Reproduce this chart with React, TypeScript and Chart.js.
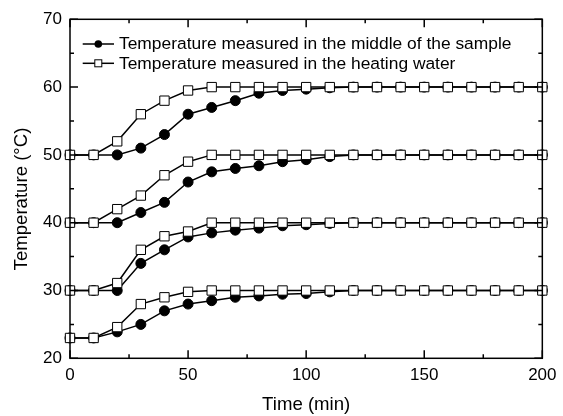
import React, { useEffect, useRef } from "react";
import { Chart, registerables } from "chart.js";

Chart.register(...registerables);

const timeMin = [0, 10, 20, 30, 40, 50, 60, 70, 80, 90, 100, 110, 120, 130, 140, 150, 160, 170, 180, 190, 200];

const sample1 = [23, 23, 23.9, 25, 27, 28, 28.5, 29, 29.2, 29.45, 29.55, 29.8, 30, 30, 30, 30, 30, 30, 30, 30, 30];
const water1 = [23, 23, 24.6, 28, 29, 29.8, 30, 30, 30, 30, 30, 30, 30, 30, 30, 30, 30, 30, 30, 30, 30];
const sample2 = [30, 30, 30, 34, 36, 37.9, 38.5, 38.9, 39.2, 39.55, 39.7, 39.9, 40, 40, 40, 40, 40, 40, 40, 40, 40];
const water2 = [30, 30, 31.1, 36, 38, 38.7, 40, 40, 40, 40, 40, 40, 40, 40, 40, 40, 40, 40, 40, 40, 40];
const sample3 = [40, 40, 40, 41.5, 43, 46, 47.5, 48, 48.4, 49, 49.3, 49.75, 50, 50, 50, 50, 50, 50, 50, 50, 50];
const water3 = [40, 40, 42, 44, 47, 49, 50, 50, 50, 50, 50, 50, 50, 50, 50, 50, 50, 50, 50, 50, 50];
const sample4 = [50, 50, 50, 51, 53, 56, 57, 58, 59.1, 59.5, 59.7, 59.9, 60, 60, 60, 60, 60, 60, 60, 60, 60];
const water4 = [50, 50, 52, 56, 58, 59.5, 60, 60, 60, 60, 60, 60, 60, 60, 60, 60, 60, 60, 60, 60, 60];

const sampleSeries = [sample1, sample2, sample3, sample4];
const waterSeries = [water1, water2, water3, water4];

const xMajorTicks = [0, 50, 100, 150, 200];
const xMinorTicks = [25, 75, 125, 175];
const yMajorTicks = [20, 30, 40, 50, 60, 70];
const yMinorTicks = [25, 35, 45, 55, 65];

const legendLabels = [
  "Temperature measured in the middle of the sample",
  "Temperature measured in the heating water",
];
const xTitle = "Time (min)";
const yTitle = "Temperature (\u00B0C)";

const FONT = "'Liberation Sans', Arial, Helvetica, sans-serif";

const toPoints = (arr: number[]) => arr.map((v, i) => ({ x: timeMin[i], y: v }));

const framePlugin = {
  id: "frameTicks",
  afterDatasetsDraw(chart: any) {
    const { ctx, chartArea } = chart;
    const xs = chart.scales.x;
    const ys = chart.scales.y;
    const { left, right, top, bottom } = chartArea;
    ctx.save();
    ctx.strokeStyle = "#000";
    ctx.lineWidth = 1.5;
    ctx.beginPath();
    const drawX = (vals: number[], len: number) => {
      vals.forEach((v) => {
        const px = xs.getPixelForValue(v);
        ctx.moveTo(px, bottom);
        ctx.lineTo(px, bottom - len);
        ctx.moveTo(px, top);
        ctx.lineTo(px, top + len);
      });
    };
    const drawY = (vals: number[], len: number) => {
      vals.forEach((v) => {
        const py = ys.getPixelForValue(v);
        ctx.moveTo(left, py);
        ctx.lineTo(left + len, py);
        ctx.moveTo(right, py);
        ctx.lineTo(right - len, py);
      });
    };
    drawX(xMajorTicks, 8);
    drawX(xMinorTicks, 4);
    drawY(yMajorTicks, 8);
    drawY(yMinorTicks, 4);
    ctx.stroke();
    ctx.strokeRect(left, top, right - left, bottom - top);
    ctx.restore();
  },
  afterDraw(chart: any) {
    const { ctx, chartArea } = chart;
    ctx.save();
    // legend
    const rows = [44, 63.3];
    ctx.strokeStyle = "#000";
    ctx.lineWidth = 1.5;
    rows.forEach((y, i) => {
      ctx.beginPath();
      ctx.moveTo(82.7, y);
      ctx.lineTo(114, y);
      ctx.stroke();
      if (i === 0) {
        ctx.fillStyle = "#000";
        ctx.beginPath();
        ctx.arc(98.3, y, 3.8, 0, Math.PI * 2);
        ctx.fill();
      } else {
        ctx.fillStyle = "#fff";
        ctx.lineWidth = 1;
        ctx.fillRect(94.8, y - 3.5, 7, 7);
        ctx.strokeRect(94.8, y - 3.5, 7, 7);
        ctx.lineWidth = 1.5;
      }
      ctx.fillStyle = "#000";
      ctx.font = `17.4px ${FONT}`;
      ctx.textAlign = "left";
      ctx.textBaseline = "middle";
      ctx.fillText(legendLabels[i], 119, y + 0.5);
    });
    // titles
    ctx.font = `18.6px ${FONT}`;
    ctx.textAlign = "center";
    ctx.textBaseline = "middle";
    ctx.fillText(xTitle, (chartArea.left + chartArea.right) / 2, 405);
    ctx.translate(21.7, 199);
    ctx.rotate(-Math.PI / 2);
    ctx.fillText(yTitle, 0, 0);
    ctx.restore();
  },
};

export default function App() {
  const ref = useRef<HTMLCanvasElement | null>(null);
  useEffect(() => {
    if (!ref.current) return;
    const datasets: any[] = [];
    sampleSeries.forEach((s) => {
      datasets.push({
        label: legendLabels[0],
        data: toPoints(s),
        borderColor: "#000",
        borderWidth: 1.5,
        pointStyle: "circle",
        pointRadius: 5,
        pointBackgroundColor: "#000",
        pointBorderColor: "#000",
        pointBorderWidth: 1,
        order: 1,
        clip: false,
      });
    });
    waterSeries.forEach((s) => {
      datasets.push({
        label: legendLabels[1],
        data: toPoints(s),
        borderColor: "#000",
        borderWidth: 1.5,
        pointStyle: "rect",
        pointRadius: 6.6,
        pointBackgroundColor: "#fff",
        pointBorderColor: "#000",
        pointBorderWidth: 1,
        order: 0,
        clip: false,
      });
    });
    const chart = new Chart(ref.current, {
      type: "line",
      data: { datasets },
      options: {
        animation: false,
        responsive: false,
        devicePixelRatio: 1,
        layout: { padding: { top: 19.3, right: 15.5, left: 0, bottom: 0 } },
        plugins: { legend: { display: false }, tooltip: { enabled: false } },
        elements: { line: { tension: 0 } },
        scales: {
          x: {
            type: "linear",
            min: 0,
            max: 200,
            grid: { display: false, drawTicks: false },
            border: { display: false },
            afterBuildTicks: (scale: any) => {
              scale.ticks = xMajorTicks.map((v) => ({ value: v }));
            },
            afterFit: (scale: any) => {
              scale.height = 57.7;
            },
            ticks: {
              color: "#000",
              padding: 6.5,
              maxRotation: 0,
              font: { family: FONT, size: 17 },
            },
          },
          y: {
            type: "linear",
            min: 20,
            max: 70,
            grid: { display: false, drawTicks: false },
            border: { display: false },
            afterBuildTicks: (scale: any) => {
              scale.ticks = yMajorTicks.map((v) => ({ value: v }));
            },
            afterFit: (scale: any) => {
              scale.width = 70;
            },
            ticks: {
              color: "#000",
              padding: 8,
              font: { family: FONT, size: 17 },
            },
          },
        },
      },
      plugins: [framePlugin],
    });
    return () => chart.destroy();
  }, []);
  return (
    <div style={{ position: "absolute", left: 0, top: 0, width: 563, height: 416, background: "#fff" }}>
      <canvas ref={ref} width={563} height={416} />
    </div>
  );
}
